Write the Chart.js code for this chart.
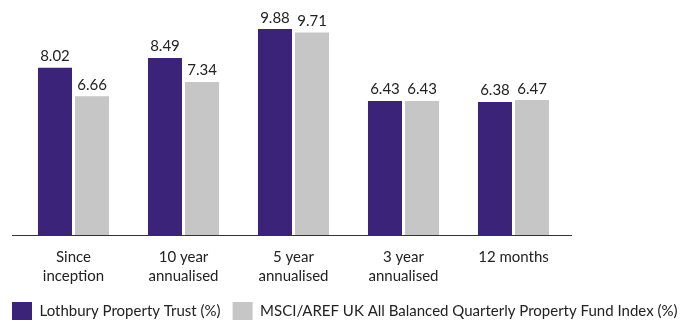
<!DOCTYPE html>
<html>
<head>
<meta charset="utf-8">
<style>
  html, body { margin: 0; padding: 0; background: #fff; }
  #wrap { width: 694px; height: 321px; }
</style>
<script src="https://cdn.jsdelivr.net/npm/chart.js@4"></script>
</head>
<body>
<div id="wrap"><canvas id="chart"></canvas></div>
<script>
// chart data
const categories = [
  ["Since", "inception"],
  ["10 year", "annualised"],
  ["5 year", "annualised"],
  ["3 year", "annualised"],
  "12 months"
];
const lothbury = [8.02, 8.49, 9.88, 6.43, 6.38];
const msciAref = [6.66, 7.34, 9.71, 6.43, 6.47];
const seriesNames = [
  "Lothbury Property Trust (%)",
  "MSCI/AREF UK All Balanced Quarterly Property Fund Index (%)"
];

const PURPLE = "#3a2379";
const GREY = "#c6c6c6";
const FONT = "Lato, 'Noto Sans', sans-serif";

// value labels above each bar
const barLabels = {
  id: "barLabels",
  afterDatasetsDraw(chart) {
    const ctx = chart.ctx;
    ctx.save();
    ctx.font = "15px " + FONT;
    ctx.fillStyle = "#222";
    ctx.textAlign = "center";
    ctx.textBaseline = "alphabetic";
    chart.data.datasets.forEach((ds, i) => {
      chart.getDatasetMeta(i).data.forEach((bar, j) => {
        ctx.fillText(ds.data[j].toFixed(2), bar.x, bar.y - 6.5);
      });
    });
    ctx.restore();
  }
};

// baseline, a little wider than the bar area
const baseline = {
  id: "baseline",
  afterDatasetsDraw(chart) {
    const ctx = chart.ctx;
    const y = Math.round(chart.scales.y.getPixelForValue(0)) + 0.5;
    ctx.save();
    ctx.strokeStyle = "#333";
    ctx.lineWidth = 1;
    ctx.beginPath();
    ctx.moveTo(chart.chartArea.left - 6.5, y);
    ctx.lineTo(chart.chartArea.right + 3.5, y);
    ctx.stroke();
    ctx.restore();
  }
};

Chart.defaults.font.family = FONT;
Chart.defaults.color = "#222";

new Chart(document.getElementById("chart"), {
  type: "bar",
  data: {
    labels: categories,
    datasets: [
      { label: seriesNames[0], data: lothbury, backgroundColor: PURPLE },
      { label: seriesNames[1], data: msciAref, backgroundColor: GREY }
    ]
  },
  options: {
    responsive: true,
    maintainAspectRatio: false,
    animation: false,
    categoryPercentage: 0.673,
    barPercentage: 0.919,
    layout: { padding: { top: 26.5, bottom: -9, left: 0, right: 0 } },
    plugins: {
      tooltip: { enabled: false },
      legend: {
        position: "bottom",
        align: "start",
        labels: {
          boxWidth: 20,
          boxHeight: 18,
          padding: 12,
          font: { size: 15 },
          color: "#222"
        }
      }
    },
    scales: {
      x: {
        grid: { display: false, drawTicks: false },
        border: { display: false },
        ticks: { font: { size: 15, lineHeight: 1.27 }, padding: 13, maxRotation: 0, autoSkip: false },
        afterFit(s) { s.height = 55; }
      },
      y: {
        min: 0,
        max: 10,
        position: "left",
        grid: { display: false, drawTicks: false },
        border: { display: false },
        ticks: { display: false },
        afterFit(s) { s.width = 18.5; }
      },
      yRight: {
        type: "linear",
        position: "right",
        grid: { display: false, drawTicks: false },
        border: { display: false },
        ticks: { display: false },
        afterFit(s) { s.width = 125.5; }
      }
    }
  },
  plugins: [barLabels, baseline]
});
</script>
</body>
</html>
